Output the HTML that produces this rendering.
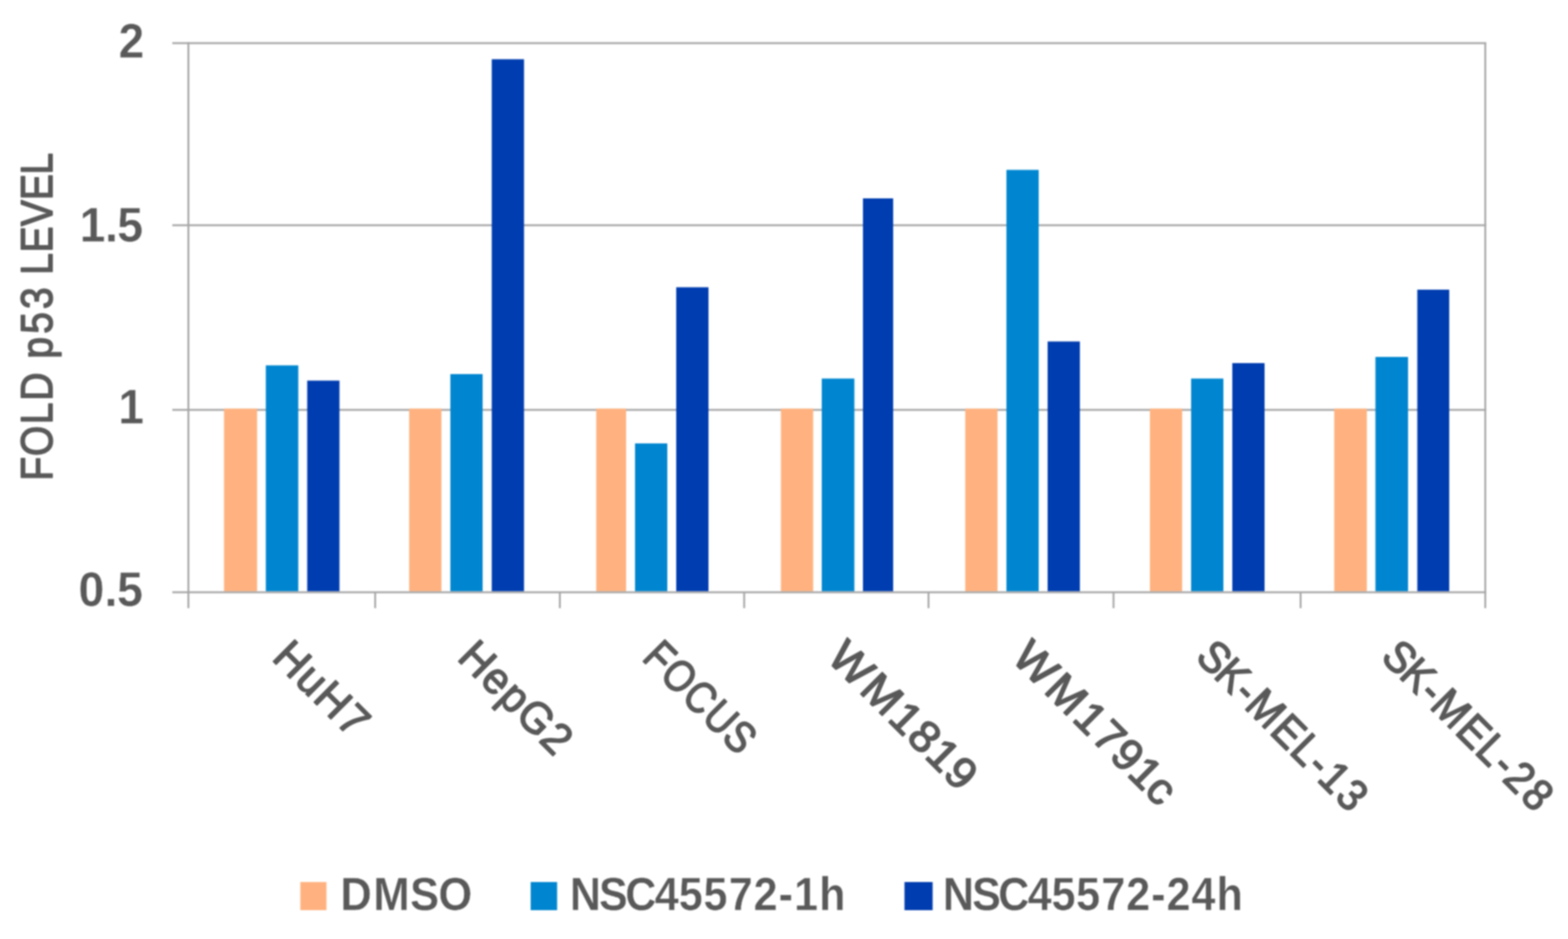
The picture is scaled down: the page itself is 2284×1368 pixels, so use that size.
<!DOCTYPE html>
<html lang="en">
<head>
<meta charset="utf-8">
<title>FOLD p53 LEVEL</title>
<style>
html,body{margin:0;padding:0;background:#fff;}
body{width:2284px;height:1368px;overflow:hidden;}
svg{display:block;filter:blur(1.0px);}
text{font-family:"Liberation Sans",sans-serif;fill:#595959;font-kerning:none;stroke-linejoin:round;}
.tick{font-weight:bold;font-size:69.5px;stroke:#fff;stroke-width:0.5px;}
.title{font-weight:normal;font-size:64.5px;stroke:#595959;stroke-width:2.0px;}
.cat{font-weight:normal;font-size:64.4px;stroke:#595959;stroke-width:2.1px;}
.leg{font-weight:bold;font-size:68.2px;stroke:#fff;stroke-width:0.5px;}
</style>
</head>
<body>
<svg width="2284" height="1368" viewBox="0 0 2284 1368">
<rect x="-10" y="-10" width="2304" height="1388" fill="#ffffff"/>
<g stroke="#a6a6a6" stroke-width="2.7" fill="none">
<line x1="251" y1="62.9" x2="2165" y2="62.9"/>
<line x1="251" y1="328.2" x2="2165" y2="328.2"/>
<line x1="251" y1="597.2" x2="2165" y2="597.2"/>
<line x1="2163.5" y1="62.5" x2="2163.5" y2="886"/>
</g>
<g>
<rect x="326.3" y="595.3" width="48.2" height="266.2" fill="#FFB27F"/>
<rect x="387.2" y="532.3" width="47.3" height="329.2" fill="#0086D0"/>
<rect x="447.5" y="554.5" width="47.0" height="307.0" fill="#003DB0"/>
<rect x="596.0" y="595.3" width="47.0" height="266.2" fill="#FFB27F"/>
<rect x="656.0" y="545.0" width="47.0" height="316.5" fill="#0086D0"/>
<rect x="716.3" y="86.3" width="47.0" height="775.2" fill="#003DB0"/>
<rect x="868.5" y="595.3" width="43.5" height="266.2" fill="#FFB27F"/>
<rect x="925.0" y="646.0" width="47.0" height="215.5" fill="#0086D0"/>
<rect x="985.0" y="418.5" width="47.0" height="443.0" fill="#003DB0"/>
<rect x="1137.5" y="595.3" width="47.0" height="266.2" fill="#FFB27F"/>
<rect x="1197.0" y="551.5" width="47.5" height="310.0" fill="#0086D0"/>
<rect x="1257.0" y="289.0" width="44.0" height="572.5" fill="#003DB0"/>
<rect x="1406.0" y="595.3" width="47.0" height="266.2" fill="#FFB27F"/>
<rect x="1466.0" y="247.5" width="47.0" height="614.0" fill="#0086D0"/>
<rect x="1526.0" y="497.5" width="47.0" height="364.0" fill="#003DB0"/>
<rect x="1675.0" y="595.3" width="47.0" height="266.2" fill="#FFB27F"/>
<rect x="1735.0" y="551.5" width="47.0" height="310.0" fill="#0086D0"/>
<rect x="1795.0" y="529.0" width="47.0" height="332.5" fill="#003DB0"/>
<rect x="1943.5" y="595.3" width="47.5" height="266.2" fill="#FFB27F"/>
<rect x="2003.5" y="520.0" width="47.5" height="341.5" fill="#0086D0"/>
<rect x="2064.5" y="422.0" width="46.5" height="439.5" fill="#003DB0"/>
</g>
<g stroke="#a6a6a6" stroke-width="2.7" fill="none">
<line x1="251" y1="862.8" x2="2165" y2="862.8"/>
<line x1="274.4" y1="61.5" x2="274.4" y2="886"/>
<line x1="546.5" y1="862.8" x2="546.5" y2="886"/>
<line x1="815.5" y1="862.8" x2="815.5" y2="886"/>
<line x1="1084.0" y1="862.8" x2="1084.0" y2="886"/>
<line x1="1352.5" y1="862.8" x2="1352.5" y2="886"/>
<line x1="1622.0" y1="862.8" x2="1622.0" y2="886"/>
<line x1="1894.5" y1="862.8" x2="1894.5" y2="886"/>
</g>
<rect x="437.5" y="1285.0" width="38.0" height="41.0" fill="#FFB27F"/>
<rect x="773.0" y="1285.0" width="38.5" height="41.0" fill="#0086D0"/>
<rect x="1317.5" y="1285.0" width="41.0" height="41.0" fill="#003DB0"/>
<text class="tick" transform="translate(172.6,83.4) scale(0.964,1)" x="0.1" y="0.2">2</text>
<text class="tick" transform="translate(115.7,351.8) scale(0.975,1)" x="0.4 38.2 56.4" y="0.2">1.5</text>
<text class="tick" transform="translate(172.6,617.2) scale(0.964,1)" x="-0.1" y="0.2">1</text>
<text class="tick" transform="translate(115.7,883.0) scale(0.975,1)" x="-1.4 37.5 56.3" y="0.2">0.5</text>
<text class="title" transform="translate(76.5,701.5) rotate(-90) scale(0.881,1)" x="1.3 42.1 94.7 133.7 180.3 203.2 244.3 285.1 321.0 342.0 378.7 422.3 465.5 507.7" y="-1.0">FOLD p53 LEVEL</text>
<text class="cat" transform="translate(393.0,960.0) rotate(45) scale(0.966,1)" x="1.0 49.7 88.0 137.1" y="-1.1">HuH7</text>
<text class="cat" transform="translate(663.0,960.0) rotate(45) scale(0.953,1)" x="1.1 49.9 88.3 126.1 177.8" y="-1.1">HepG2</text>
<text class="cat" transform="translate(932.0,960.0) rotate(45) scale(0.854,1)" x="1.6 43.4 96.2 145.2 193.2" y="-1.1">FOCUS</text>
<text class="cat" transform="translate(1201.0,960.0) rotate(45) scale(1.022,1)" x="1.4 66.6 123.8 161.4 198.4 235.0" y="-1.1">WM1819</text>
<text class="cat" transform="translate(1470.0,960.0) rotate(45) scale(1.011,1)" x="1.4 67.4 125.3 163.5 200.7 237.0 272.2" y="-1.1">WM1791c</text>
<text class="cat" transform="translate(1739.0,960.0) rotate(45) scale(0.917,1)" x="0.1 40.7 84.5 109.7 166.6 210.9 248.4 273.2 313.1" y="-1.1">SK-MEL-13</text>
<text class="cat" transform="translate(2009.0,960.0) rotate(45) scale(0.917,1)" x="0.1 40.7 84.5 109.7 166.6 210.8 248.3 272.9 312.9" y="-1.1">SK-MEL-28</text>
<text class="leg" transform="translate(496.0,1326.0) scale(0.932,1)" x="-0.3 51.2 108.6 152.9" y="0.2">DMSO</text>
<text class="leg" transform="translate(830.3,1326.0) scale(0.920,1)" x="-0.2 46.0 87.5 134.3 172.2 211.3 251.2 290.8 330.4 354.8 394.4" y="0.2">NSC45572-1h</text>
<text class="leg" transform="translate(1373.8,1326.0) scale(0.921,1)" x="-0.2 45.8 87.1 133.7 171.4 210.4 250.1 289.6 329.0 353.3 392.7 432.4" y="0.2">NSC45572-24h</text>
</svg>
</body>
</html>
